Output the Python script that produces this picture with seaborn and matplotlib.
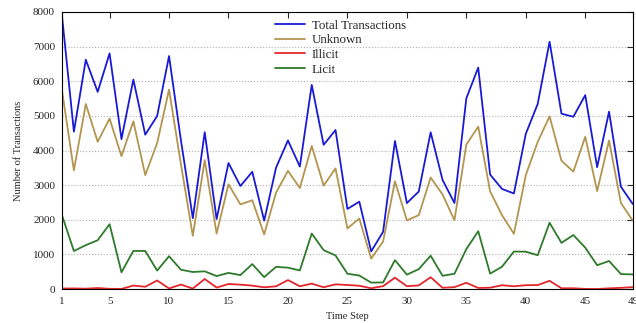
import pandas as pd
import matplotlib.pyplot as plt
import seaborn as sns

# Transactions per time step
time_steps = list(range(1, 50))
total = [7880, 4544, 6621, 5693, 6803, 4328, 6048, 4457, 4996, 6727,
         4296, 2047, 4528, 2022, 3639, 2975, 3385, 1976, 3506, 4291,
         3537, 5894, 4165, 4592, 2314, 2523, 1089, 1653, 4275, 2483,
         2816, 4525, 3151, 2486, 5507, 6393, 3306, 2891, 2760, 4481,
         5342, 7140, 5063, 4975, 5598, 3519, 5121, 2954, 2454]
unknown = [5733, 3427, 5342, 4253, 4921, 3838, 4844, 3290, 4214, 5760,
           3606, 1538, 3724, 1604, 3025, 2444, 2564, 1579, 2784, 3413,
           2918, 4133, 2988, 3484, 1752, 2036, 879, 1376, 3110, 1983,
           2134, 3220, 2730, 1987, 4171, 4689, 2819, 2135, 1595, 3289,
           4248, 4987, 3705, 3391, 4396, 2828, 4288, 2484, 1975]
illicit = [17, 18, 11, 30, 8, 5, 102, 67, 248, 18,
           131, 16, 291, 43, 147, 128, 99, 52, 80, 260,
           81, 158, 53, 137, 118, 96, 24, 85, 329, 83,
           106, 342, 37, 56, 182, 33, 40, 111, 81, 112,
           116, 239, 24, 24, 5, 2, 22, 36, 56]
licit = [2130, 1099, 1268, 1410, 1874, 485, 1102, 1100, 534, 949,
         559, 493, 513, 375, 467, 403, 722, 345, 642, 618,
         538, 1603, 1124, 971, 444, 391, 186, 192, 836, 417,
         576, 963, 384, 443, 1154, 1671, 447, 645, 1084, 1080,
         978, 1914, 1334, 1560, 1197, 689, 811, 434, 423]

series_names = ['Total Transactions', 'Unknown', 'Illicit', 'Licit']
colors = ['#1a1ad6', '#b39550', '#e3262b', '#2f7a2b']

df = pd.DataFrame({'Time Step': time_steps, 'Total Transactions': total,
                   'Unknown': unknown, 'Illicit': illicit, 'Licit': licit})
long_df = df.melt(id_vars='Time Step', var_name='Series', value_name='Count')

sns.set_style('white')
plt.rcParams['font.family'] = ['Liberation Serif', 'DejaVu Serif']

fig = plt.figure(figsize=(6.36, 3.23), dpi=100)
ax = fig.add_axes([0.0975, 0.105, 0.8975, 0.858])
sns.lineplot(data=long_df, x='Time Step', y='Count', hue='Series',
             hue_order=series_names, palette=colors, linewidth=1.3, ax=ax)

ax.set_xlim(1, 49)
ax.set_ylim(0, 8000)
ax.set_xticks([1, 5, 10, 15, 20, 25, 30, 35, 40, 45, 49])
ax.set_yticks(range(0, 8001, 1000))
ax.yaxis.grid(True, linestyle=':', color='#b0b0b0', linewidth=0.8)
ax.tick_params(direction='in', top=True, right=True, labelsize=8, length=4)
ax.tick_params(axis='x', pad=6)
ax.tick_params(axis='y', pad=5)
for s in ax.spines.values():
    s.set_color('black')
    s.set_linewidth(0.8)
ax.set_xlabel('Time Step', fontsize=7.5, labelpad=4)
ax.set_ylabel('Number of Transactions', fontsize=7.5, labelpad=7)

leg = ax.legend(loc='upper center', bbox_to_anchor=(0.488, 1.0), frameon=False,
                fontsize=9.3, handlelength=2.3, handletextpad=0.55,
                labelspacing=0.2, borderaxespad=0.2)

fig.savefig('out.png', dpi=100)
